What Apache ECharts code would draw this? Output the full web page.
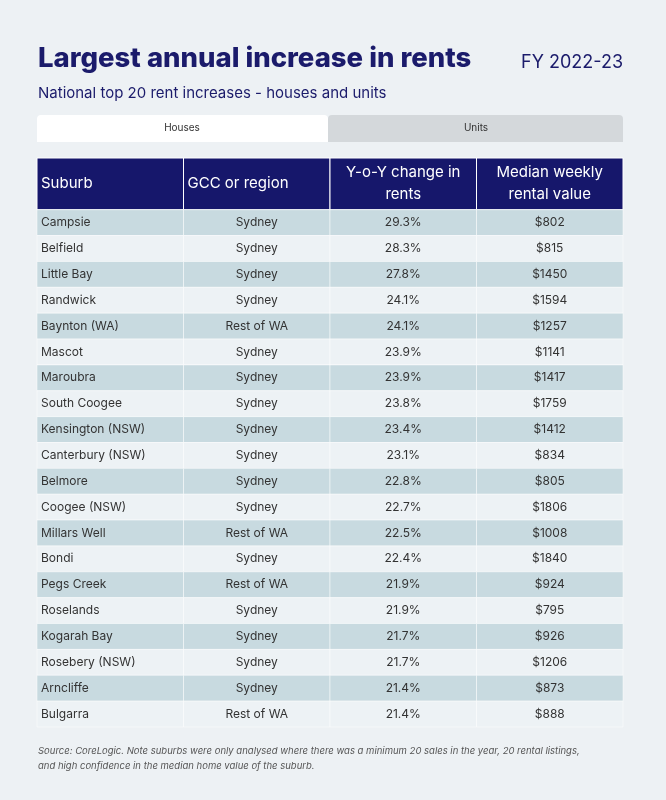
<!DOCTYPE html>
<html><head><meta charset="utf-8">
<script src="https://cdn.jsdelivr.net/npm/echarts@6/dist/echarts.min.js"></script>
<style>html,body{margin:0;padding:0;background:#edf1f4}#c{width:666px;height:800px}</style>
</head><body><div id="c"></div>
<script>
const suburbs=["Campsie","Belfield","Little Bay","Randwick","Baynton (WA)","Mascot","Maroubra","South Coogee","Kensington (NSW)","Canterbury (NSW)","Belmore","Coogee (NSW)","Millars Well","Bondi","Pegs Creek","Roselands","Kogarah Bay","Rosebery (NSW)","Arncliffe","Bulgarra"];
const regions=["Sydney","Sydney","Sydney","Sydney","Rest of WA","Sydney","Sydney","Sydney","Sydney","Sydney","Sydney","Sydney","Rest of WA","Sydney","Rest of WA","Sydney","Sydney","Sydney","Sydney","Rest of WA"];
const yoy=["29.3%","28.3%","27.8%","24.1%","24.1%","23.9%","23.9%","23.8%","23.4%","23.1%","22.8%","22.7%","22.5%","22.4%","21.9%","21.9%","21.7%","21.7%","21.4%","21.4%"];
const median=["$802","$815","$1450","$1594","$1257","$1141","$1417","$1759","$1412","$834","$805","$1806","$1008","$1840","$924","$795","$926","$1206","$873","$888"];
const headers=["Suburb","GCC or region","Y-o-Y change in\nrents","Median weekly\nrental value"];

const FONT="Inter, 'Open Sans', sans-serif";
const data=[];
headers.forEach((h,j)=>data.push([j,-2,h,'h']));
suburbs.forEach((s,i)=>{
  data.push([0,i,s,'r']);data.push([1,i,regions[i],'r']);
  data.push([2,i,yoy[i],'r']);data.push([3,i,median[i],'r']);
});
const chart=echarts.init(document.getElementById('c'));
chart.setOption({
  backgroundColor:'#edf1f4',
  animation:false,
  grid:{left:37,right:43,top:158,bottom:73},
  xAxis:{type:'value',min:0,max:4,show:false},
  yAxis:{type:'value',min:-2,max:20,inverse:true,show:false},
  series:[{type:'custom',data:data,renderItem:function(params,api){
    const j=api.value(0),i=api.value(1);
    const d=data[params.dataIndex];
    const isH=d[3]==='h';
    const p=api.coord([j,i]);
    const sz=api.size([1,isH?2:1]);
    const w=sz[0],h=sz[1];
    const fill=isH?'#16176b':(i%2===0?'#c8dae0':'#edf2f5');
    const left=(j===0)||(isH&&j===1);
    return {type:'group',children:[
      {type:'rect',shape:{x:p[0],y:p[1],width:w,height:h},style:{fill:fill,stroke:'#ffffff',lineWidth:isH?1:0.5}},
      {type:'text',style:{text:d[2],x:left?p[0]+4:p[0]+w/2,y:p[1]+h/2,align:left?'left':'center',verticalAlign:'middle',
        fill:isH?'#ffffff':'#333333',font:(isH?'15px ':'12px ')+FONT,lineHeight:isH?22:14}}
    ]};
  }}],
  graphic:[
    {type:'text',left:38,top:45,style:{text:'Largest annual increase in rents',fill:'#1b1b6b',font:'800 27.5px '+FONT}},
    {type:'text',right:43,top:54,style:{text:'FY 2022-23',fill:'#1b1b6b',font:'18px '+FONT}},
    {type:'text',left:38,top:86,style:{text:'National top 20 rent increases - houses and units',fill:'#1b1b6b',font:'15px '+FONT}},
    {type:'rect',shape:{x:37,y:115,width:291,height:27,r:[4,4,0,0]},style:{fill:'#ffffff'}},
    {type:'rect',shape:{x:328,y:115,width:295,height:27,r:[4,4,0,0]},style:{fill:'#d4d8db'}},
    {type:'text',x:182,y:128,style:{text:'Houses',align:'center',verticalAlign:'middle',fill:'#333',font:'10px '+FONT}},
    {type:'text',x:476,y:128,style:{text:'Units',align:'center',verticalAlign:'middle',fill:'#333',font:'10px '+FONT}},
    {type:'text',left:38,top:744,style:{text:'Source: CoreLogic. Note suburbs were only analysed where there was a minimum 20 sales in the year, 20 rental listings,\nand high confidence in the median home value of the suburb.',fill:'#555',font:'italic 9.5px '+FONT,lineHeight:15}}
  ]
});
</script></body></html>
